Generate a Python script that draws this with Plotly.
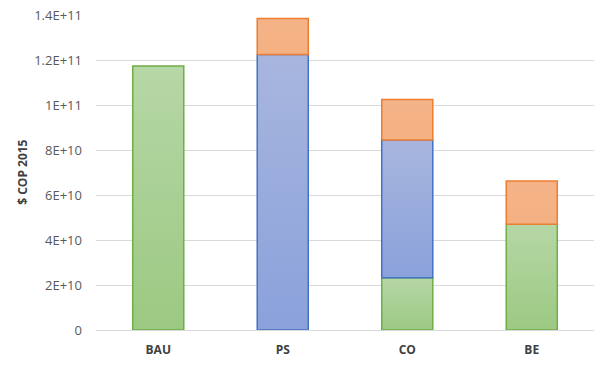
import plotly.graph_objects as go

# Scenario categories and stacked cost components ($ COP 2015)
categories = ["BAU", "PS", "CO", "BE"]
green_vals = [1.173e11, 0.0, 2.32e10, 4.70e10]
blue_vals = [0.0, 1.225e11, 6.12e10, 0.0]
orange_vals = [0.0, 1.60e10, 1.81e10, 1.92e10]

tick_vals = [0, 2e10, 4e10, 6e10, 8e10, 1e11, 1.2e11, 1.4e11]
tick_text = ["0", "2E+10", "4E+10", "6E+10", "8E+10", "1E+11", "1.2E+11", "1.4E+11"]

series = [
    (green_vals, "#70ad47", "#9cc982", "#b6d7a6"),
    (blue_vals, "#4472c4", "#8aa1db", "#a8b6de"),
    (orange_vals, "#ed7d31", "#f4b183", "#f4b387"),
]

half_w = 0.205
fig = go.Figure()

base = [0.0] * len(categories)
for vals, line_col, bottom_col, top_col in series:
    for i, v in enumerate(vals):
        if v <= 0:
            continue
        y0 = base[i]
        y1 = base[i] + v
        x0, x1 = i - half_w, i + half_w
        fig.add_trace(go.Scatter(
            x=[x0, x1, x1, x0, x0],
            y=[y0, y0, y1, y1, y0],
            mode="lines",
            fill="toself",
            fillgradient=dict(type="vertical",
                              colorscale=[[0, bottom_col], [1, top_col]]),
            line=dict(color=line_col, width=1.5),
            hoverinfo="skip",
            showlegend=False,
        ))
        base[i] = y1

fig.update_layout(
    width=595, height=365,
    margin=dict(l=96, r=1, t=15, b=35),
    paper_bgcolor="white",
    plot_bgcolor="white",
    font=dict(family="Open Sans", size=12, color="#595959"),
    showlegend=False,
    annotations=[dict(
        text="<b>$ COP 2015</b>", textangle=-90,
        xref="paper", yref="paper", x=-0.148, y=0.5,
        xanchor="center", yanchor="middle", showarrow=False,
        font=dict(size=12, color="#404040"),
    )],
)
fig.update_xaxes(
    range=[-0.5, 3.5],
    tickvals=list(range(len(categories))),
    ticktext=["<b>%s</b>" % c for c in categories],
    showgrid=False, zeroline=False, showline=False,
    ticks="", tickfont=dict(size=12, color="#404040"),
    ticklabelstandoff=11,
)
fig.update_yaxes(
    range=[0, 1.4e11],
    tickvals=tick_vals, ticktext=tick_text,
    showgrid=True, gridcolor="#d9d9d9", gridwidth=1,
    zeroline=True, zerolinecolor="#d9d9d9", zerolinewidth=1,
    showline=False, ticks="", ticklabelstandoff=13,
    tickfont=dict(size=13, color="#595959"),
)

fig.write_html("out.html")
